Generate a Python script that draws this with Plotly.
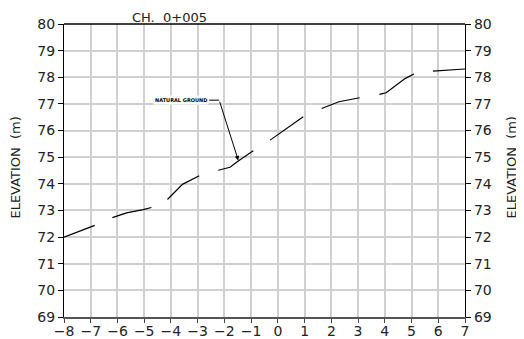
import plotly.graph_objects as go

# Ground profile (offset m, elevation m); None marks the gaps of the dashed linetype
offset = [-8, -6.85, None, -6.19, -5.66, -5.04, -4.73, None, -4.13, -3.57, -2.94, None,
          -2.23, -1.79, -1.48, -0.92, None, -0.29, 0.95, None, 1.64, 2.28, 3.06, None,
          3.80, 4.05, 4.77, 5.09, None, 5.80, 7.0]
elev = [72.0, 72.44, None, 72.73, 72.91, 73.03, 73.11, None, 73.41, 73.98, 74.30, None,
        74.51, 74.62, 74.86, 75.24, None, 75.64, 76.52, None, 76.83, 77.08, 77.23, None,
        77.36, 77.42, 77.96, 78.12, None, 78.23, 78.31]

x_ticks = list(range(-8, 8))
y_ticks = list(range(69, 81))
title_text = "CH. 0+005"
y_title = "ELEVATION (m)"
label_text = "NATURAL GROUND"
label_pos = (-2.57, 77.14)
leader_corner = (-2.195, 77.14)
leader_tip = (-1.48, 74.88)

FONT = "DejaVu Sans"

fig = go.Figure()
fig.add_trace(go.Scatter(x=offset, y=elev, mode="lines",
                         line=dict(color="black", width=1.2),
                         connectgaps=False, hoverinfo="skip", showlegend=False))
# leader horizontal part
fig.add_trace(go.Scatter(x=[label_pos[0], leader_corner[0]], y=[label_pos[1], leader_corner[1]],
                         mode="lines", line=dict(color="black", width=1),
                         hoverinfo="skip", showlegend=False))
# dummy trace for right axis
fig.add_trace(go.Scatter(x=[None], y=[None], yaxis="y2", showlegend=False))

axis_font = dict(family=FONT, size=14, color="#222")
title_font = dict(family=FONT, size=13, color="#222")
# page body has an 8px margin, so the figure is sized/offset to fill 524x339
fig.update_layout(
    width=516, height=331,
    margin=dict(l=56, r=59, t=16, b=22, autoexpand=False),
    paper_bgcolor="white", plot_bgcolor="white",
    xaxis=dict(range=[-8, 7], tickvals=x_ticks, ticks="outside", ticklen=4,
               tickcolor="#444", tickwidth=1.2, automargin=False,
               showgrid=True, gridcolor="#d0d0d0", gridwidth=1.5,
               showline=True, linecolor="#555", linewidth=1.5,
               zeroline=False, tickfont=axis_font, mirror=False,
               ticklabelstandoff=-4),
    xaxis2=dict(range=[-8, 7], tickvals=x_ticks, ticks="inside", ticklen=3,
                tickcolor="#444", tickwidth=1.2, overlaying="x", side="bottom",
                automargin=False,
                showticklabels=False, showgrid=False, zeroline=False, showline=False),
    yaxis=dict(range=[69, 80], tickvals=y_ticks, ticks="outside", ticklen=5,
               tickcolor="black", tickwidth=1, automargin=False,
               showgrid=True, gridcolor="#d0d0d0", gridwidth=1.5,
               showline=True, linecolor="black", linewidth=1.3,
               zeroline=False, tickfont=axis_font, ticklabelstandoff=0),
    yaxis2=dict(range=[69, 80], tickvals=y_ticks, ticks="outside", ticklen=5,
                tickcolor="black", tickwidth=1, overlaying="y", side="right",
                automargin=False,
                showgrid=False, showline=True, linecolor="black", linewidth=1.3,
                zeroline=False, tickfont=axis_font, ticklabelstandoff=0),
    shapes=[dict(type="line", xref="paper", yref="paper", x0=0, x1=1, y0=1, y1=1,
                 line=dict(color="black", width=1.3))],
    annotations=[
        dict(text=title_text.replace(" ", "&nbsp;&nbsp;"), x=-4.05, y=1, xref="x", yref="paper",
             yanchor="top", yshift=16, showarrow=False,
             font=dict(family=FONT, size=13, color="#222")),
        dict(text=y_title.replace(" ", "&nbsp;&nbsp;"), x=-0.1197, y=0.51, xref="paper",
             yref="paper", textangle=-90, xanchor="center", yanchor="middle",
             showarrow=False, font=title_font),
        dict(text=y_title.replace(" ", "&nbsp;&nbsp;"), x=1.117, y=0.51, xref="paper",
             yref="paper", textangle=-90, xanchor="center", yanchor="middle",
             showarrow=False, font=title_font),
        dict(text="<b>" + label_text + "</b>", x=label_pos[0], y=label_pos[1],
             xref="x", yref="y", xanchor="right", yanchor="middle", showarrow=False,
             bgcolor="white", borderpad=1,
             font=dict(family=FONT, size=5, color="black")),
        dict(text="", x=leader_tip[0], y=leader_tip[1], ax=leader_corner[0], ay=leader_corner[1],
             xref="x", yref="y", axref="x", ayref="y", showarrow=True,
             arrowhead=2, arrowsize=0.9, arrowwidth=1, arrowcolor="black"),
    ],
)
fig.write_html("out.html")
